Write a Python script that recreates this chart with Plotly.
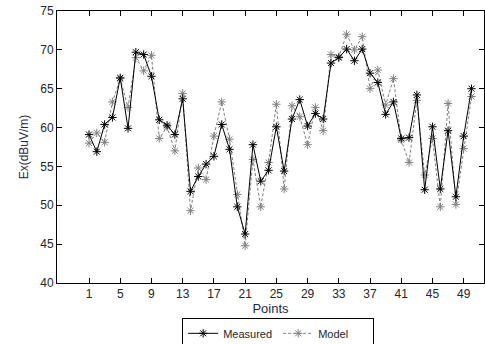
import plotly.graph_objects as go

points = list(range(1, 51))
measured = [59.1, 56.9, 60.4, 61.3, 66.4, 59.9, 69.7, 69.4, 66.6, 61.0,
            60.3, 59.1, 63.7, 51.8, 53.7, 55.3, 56.3, 60.4, 57.2, 49.8,
            46.3, 57.8, 53.1, 54.5, 60.1, 54.4, 61.1, 63.6, 60.2, 61.8,
            61.1, 68.3, 69.0, 70.1, 68.6, 70.1, 67.0, 65.8, 61.7, 63.3,
            58.6, 58.7, 64.2, 52.0, 60.1, 52.1, 59.6, 51.1, 58.9, 65.0]
model = [58.0, 59.3, 58.1, 63.3, 66.3, 62.6, 69.0, 67.3, 69.3, 58.6,
         60.1, 57.0, 64.4, 49.3, 54.8, 53.3, 58.9, 63.3, 58.5, 51.4,
         44.8, 55.9, 49.8, 55.5, 63.0, 52.1, 62.8, 61.4, 57.8, 62.6,
         59.6, 69.4, 69.1, 72.0, 70.0, 71.7, 65.0, 67.4, 62.9, 66.3,
         58.4, 55.5, 63.5, 53.9, 58.6, 49.8, 63.1, 50.1, 57.3, 64.0]
xticks = [1, 5, 9, 13, 17, 21, 25, 29, 33, 37, 41, 45, 49]

fig = go.Figure()
fig.add_trace(go.Scatter(
    x=points, y=model, name="Model", mode="lines+markers",
    line=dict(color="#808080", width=1, dash="3px,2px"),
    marker=dict(symbol="asterisk-open", size=7, color="#808080",
                line=dict(color="#808080", width=1)),
))
fig.add_trace(go.Scatter(
    x=points, y=measured, name="Measured", mode="lines+markers",
    line=dict(color="black", width=1),
    marker=dict(symbol="asterisk-open", size=7, color="black",
                line=dict(color="black", width=1)),
))

fig.update_layout(
    width=485, height=344,
    margin=dict(l=57, r=1, t=11, b=61, autoexpand=False),
    paper_bgcolor="white", plot_bgcolor="white",
    font=dict(family="Liberation Sans, Arial", size=12, color="#262626"),
    showlegend=True,
    legend=dict(orientation="h", x=0.518, xanchor="center", xref="paper",
                y=-0.128, yanchor="top", yref="paper",
                bordercolor="black", borderwidth=1, bgcolor="white",
                traceorder="reversed", font=dict(size=11),
                entrywidth=50, tracegroupgap=0),
    xaxis=dict(range=[-3.1, 51.6], tickvals=xticks, ticks="inside",
               ticklen=5, tickcolor="black", showline=True, linecolor="black",
               linewidth=1, mirror="ticks", showgrid=False, zeroline=False,
               automargin=False,
               title=dict(text="Points", standoff=2, font=dict(size=13, color="#1f2a44"))),
    yaxis=dict(range=[40, 75], dtick=5, ticks="inside", ticklen=5,
               tickcolor="black", showline=True, linecolor="black",
               linewidth=1, mirror="ticks", showgrid=False, zeroline=False,
               automargin=False,
               title=dict(text="Ex(dBuV/m)", standoff=9, font=dict(size=12, color="#1f2a44"))),
)

fig.write_html("out.html", config={"displayModeBar": False},
               post_script="document.body.style.margin='0';document.body.style.overflow='hidden';")
